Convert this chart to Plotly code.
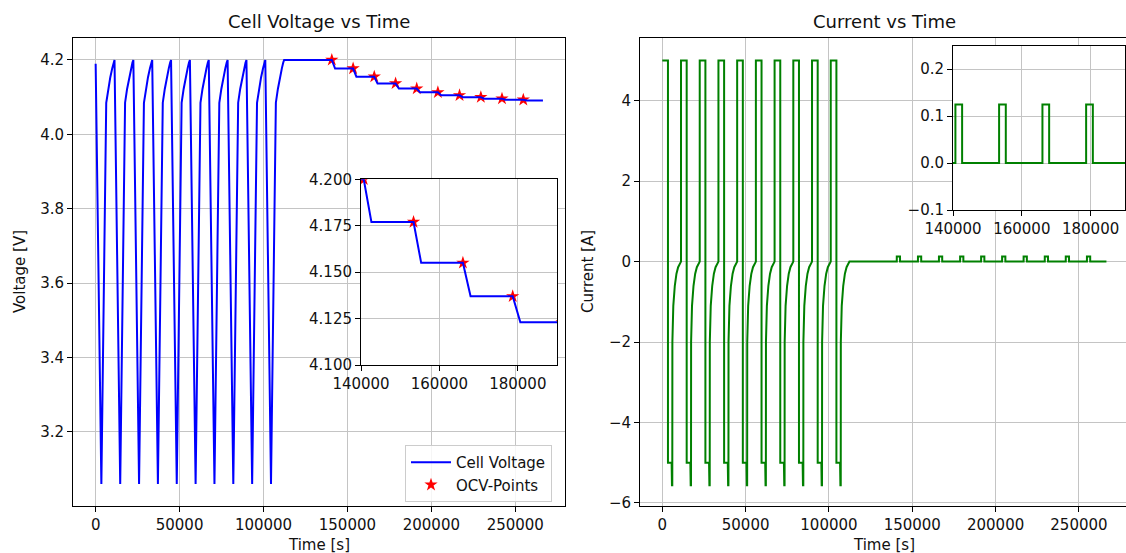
import plotly.graph_objects as go

# ---------------- data ----------------
# start time [s] of each of the 10 discharge/charge cycles
cycle_start = [0, 11230, 22460, 33690, 44920, 56150, 67380, 78610, 89840, 101070]

# voltage shape of one cycle (time offset from cycle start [s], voltage [V])
cycle_v_offset = [0, 3400, 6300, 7500, 8700, 9900, 10700, 11230]
cycle_v_value = [4.20, 3.06, 4.085, 4.122, 4.153, 4.178, 4.193, 4.20]
first_voltage = 4.19

# current shape of one cycle (time offset [s], current [A])
cycle_i_offset = [0, 3400, 3400, 5600, 5800, 6000, 6050, 6600, 7500, 8500, 9500, 10500, 11230]
cycle_i_value = [5.0, 5.0, -5.0, -5.0, -5.56, -5.56, -2.0, -1.1, -0.6, -0.3, -0.14, -0.05, 0.0]

# OCV pulse test after the cycling
pulse_start = [140700, 153400, 166000, 178700, 191300, 203900, 216800, 229500, 242100, 254800]
pulse_length = 1950
pulse_current = 0.125
ocv_levels = [4.200, 4.177, 4.155, 4.137, 4.123, 4.113, 4.105, 4.100, 4.096, 4.093, 4.091]
t_end = 266500

# ---------------- build series ----------------
t_v, volt = [], []
t_i, curr = [], []
for s in cycle_start:
    for off, val in zip(cycle_v_offset, cycle_v_value):
        t_v.append(s + off)
        volt.append(val)
    for off, val in zip(cycle_i_offset, cycle_i_value):
        t_i.append(s + off)
        curr.append(val)
volt[0] = first_voltage

for k, ps in enumerate(pulse_start):
    t_v += [ps, ps + pulse_length]
    volt += [ocv_levels[k], ocv_levels[k + 1]]
    t_i += [ps, ps, ps + pulse_length, ps + pulse_length]
    curr += [0.0, pulse_current, pulse_current, 0.0]
t_v.append(t_end)
volt.append(ocv_levels[-1])
t_i.append(t_end)
curr.append(0.0)

ocv_t = pulse_start
ocv_v = ocv_levels[:len(pulse_start)]

# ---------------- figure ----------------
W, H = 1126, 553
FONT = "DejaVu Sans"


def fx(p):
    return p / W


def fy(p):
    return 1 - p / H


fig = go.Figure()

star = dict(symbol="star", color="red", size=10, line=dict(width=0))
fig.add_trace(go.Scatter(x=ocv_t, y=ocv_v, mode="markers", marker=star, name="OCV-Points",
                         legendrank=2, xaxis="x", yaxis="y"))
fig.add_trace(go.Scatter(x=t_v, y=volt, mode="lines", line=dict(color="blue", width=2),
                         name="Cell Voltage", legendrank=1, xaxis="x", yaxis="y"))
fig.add_trace(go.Scatter(x=t_i, y=curr, mode="lines", line=dict(color="green", width=2),
                         showlegend=False, xaxis="x2", yaxis="y2"))
fig.add_trace(go.Scatter(x=ocv_t, y=ocv_v, mode="markers", marker=star, showlegend=False,
                         xaxis="x3", yaxis="y3"))
fig.add_trace(go.Scatter(x=t_v, y=volt, mode="lines", line=dict(color="blue", width=2),
                         showlegend=False, xaxis="x3", yaxis="y3"))
fig.add_trace(go.Scatter(x=t_i, y=curr, mode="lines", line=dict(color="green", width=2),
                         showlegend=False, xaxis="x4", yaxis="y4"))

common = dict(showgrid=True, gridcolor="#c4c4c4", gridwidth=1, zeroline=False,
              showline=True, linecolor="black", linewidth=1, ticks="outside",
              ticklen=5, tickwidth=1, tickcolor="black", automargin=False,
              tickfont=dict(family=FONT, size=15, color="#111"), autorange=False)

big_t = [0, 50000, 100000, 150000, 200000, 250000]
ins_t = [140000, 160000, 180000]

fig.update_layout(
    width=W, height=H, margin=dict(l=0, r=0, t=0, b=0, autoexpand=False),
    paper_bgcolor="white", plot_bgcolor="white",
    font=dict(family=FONT, size=15, color="#111"),
    xaxis=dict(common, domain=[fx(73), fx(565)], range=[-13500, 279640], anchor="y",
               mirror=True, tickvals=big_t, ticktext=[str(v) for v in big_t]),
    yaxis=dict(common, domain=[fy(506), fy(38)], range=[3.001, 4.259], anchor="x",
               mirror=True, tickvals=[3.2, 3.4, 3.6, 3.8, 4.0, 4.2],
               ticktext=["3.2", "3.4", "3.6", "3.8", "4.0", "4.2"]),
    xaxis2=dict(common, domain=[fx(640), 1.0], range=[-13380, 278240], anchor="y2",
                mirror=True, tickvals=big_t, ticktext=[str(v) for v in big_t]),
    yaxis2=dict(common, domain=[fy(506), fy(38)], range=[-6.075, 5.558], anchor="x2",
                mirror=False, tickvals=[-6, -4, -2, 0, 2, 4],
                ticktext=["\u22126", "\u22124", "\u22122", "0", "2", "4"]),
    xaxis3=dict(common, domain=[fx(361), fx(557)], range=[140000, 190000], anchor="y3",
                mirror=True, tickvals=ins_t, ticktext=[str(v) for v in ins_t]),
    yaxis3=dict(common, domain=[fy(365), fy(179.3)], range=[4.1, 4.2], anchor="x3",
                mirror=True, tickvals=[4.1, 4.125, 4.15, 4.175, 4.2],
                ticktext=["4.100", "4.125", "4.150", "4.175", "4.200"]),
    xaxis4=dict(common, domain=[fx(953), fx(1125)], range=[140000, 190000], anchor="y4",
                mirror=True, tickvals=ins_t, ticktext=[str(v) for v in ins_t]),
    yaxis4=dict(common, domain=[fy(210), fy(45.7)], range=[-0.1, 0.25], anchor="x4",
                mirror=True, tickvals=[-0.1, 0.0, 0.1, 0.2],
                ticktext=["\u22120.1", "0.0", "0.1", "0.2"]),
    legend=dict(x=fx(405), y=fy(445), xanchor="left", yanchor="top",
                bordercolor="#cccccc", borderwidth=1, bgcolor="rgba(255,255,255,0.85)",
                font=dict(family=FONT, size=15, color="#111"), tracegroupgap=0,
                itemwidth=40),
    shapes=[
        dict(type="rect", xref="x3", yref="y3", x0=140000, x1=190000, y0=4.1, y1=4.2,
             fillcolor="white", line=dict(width=0), layer="below"),
        dict(type="rect", xref="x4", yref="y4", x0=140000, x1=190000, y0=-0.1, y1=0.25,
             fillcolor="white", line=dict(width=0), layer="below"),
    ],
    annotations=[
        dict(text="Cell Voltage vs Time", x=fx(319), y=fy(21.5), xref="paper", yref="paper",
             showarrow=False, xanchor="center", yanchor="middle", font=dict(size=18)),
        dict(text="Current vs Time", x=fx(884), y=fy(21.5), xref="paper", yref="paper",
             showarrow=False, xanchor="center", yanchor="middle", font=dict(size=18)),
        dict(text="Time [s]", x=fx(319), y=fy(545), xref="paper", yref="paper",
             showarrow=False, xanchor="center", yanchor="middle", font=dict(size=15)),
        dict(text="Time [s]", x=fx(884), y=fy(545), xref="paper", yref="paper",
             showarrow=False, xanchor="center", yanchor="middle", font=dict(size=15)),
        dict(text="Voltage [V]", x=fx(20), y=fy(272), xref="paper", yref="paper",
             showarrow=False, xanchor="center", yanchor="middle", textangle=-90,
             font=dict(size=15)),
        dict(text="Current [A]", x=fx(588), y=fy(272), xref="paper", yref="paper",
             showarrow=False, xanchor="center", yanchor="middle", textangle=-90,
             font=dict(size=15)),
    ],
)

fig.write_html("out.html")
